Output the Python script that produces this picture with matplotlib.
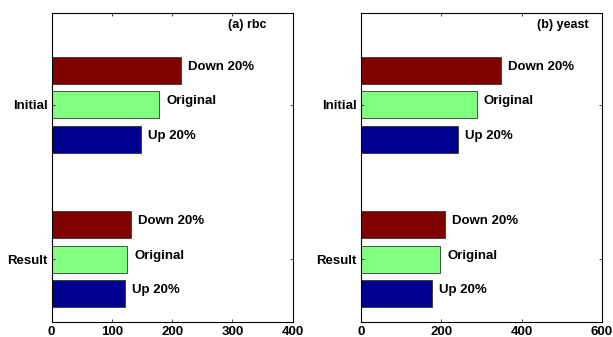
import matplotlib
matplotlib.use("Agg")
import matplotlib.pyplot as plt
import numpy as np

plt.rcParams["font.family"] = ["Liberation Sans", "DejaVu Sans"]
plt.rcParams["font.weight"] = "bold"
plt.rcParams["font.size"] = 9.5

# stage order on the y axis: Result (y=1), Initial (y=2)
stages = ["Result", "Initial"]
variants = ["Up 20%", "Original", "Down 20%"]
colors = ["#000090", "#80ff80", "#800000"]

rbc_up = [121, 149]
rbc_orig = [125.5, 178.5]
rbc_down = [131, 214.5]

yeast_up = [177.5, 241]
yeast_orig = [197.5, 288]
yeast_down = [210, 348]

panels = [
    ("(a) rbc", [rbc_up, rbc_orig, rbc_down], 400, [0, 100, 200, 300, 400]),
    ("(b) yeast", [yeast_up, yeast_orig, yeast_down], 600, [0, 200, 400, 600]),
]

fig = plt.figure(figsize=(6.13, 3.37), dpi=100)
lefts = [0.0843, 0.5889]

y = np.arange(1, len(stages) + 1)
offsets = [-0.2225, 0.0, 0.2225]
bar_h = 0.175

for left, (title, series, xmax, xticks) in zip(lefts, panels):
    ax = fig.add_axes([left, 0.0454, 0.3931, 0.917])
    for vals, off, col, name in zip(series, offsets, colors, variants):
        ax.barh(y + off, vals, height=bar_h, color=col,
                edgecolor="#333333", linewidth=0.6)
        for yi, v in zip(y + off, vals):
            ax.annotate(name, (v, yi), xytext=(5, 2.5),
                        textcoords="offset points", va="center", ha="left",
                        fontweight="bold")
    ax.set_xlim(0, xmax)
    ax.set_ylim(0.596, 2.595)
    ax.set_xticks(xticks)
    ax.set_yticks(y)
    ax.set_yticklabels(stages)
    ax.tick_params(direction="in", top=True, right=True, length=2.5,
                   width=0.5, pad=3)
    for s in ax.spines.values():
        s.set_linewidth(0.8)
    ax.text(0.73, 0.96, title, transform=ax.transAxes, ha="left",
            va="center", fontweight="bold", fontsize=9)

fig.savefig("out.png", dpi=100)
